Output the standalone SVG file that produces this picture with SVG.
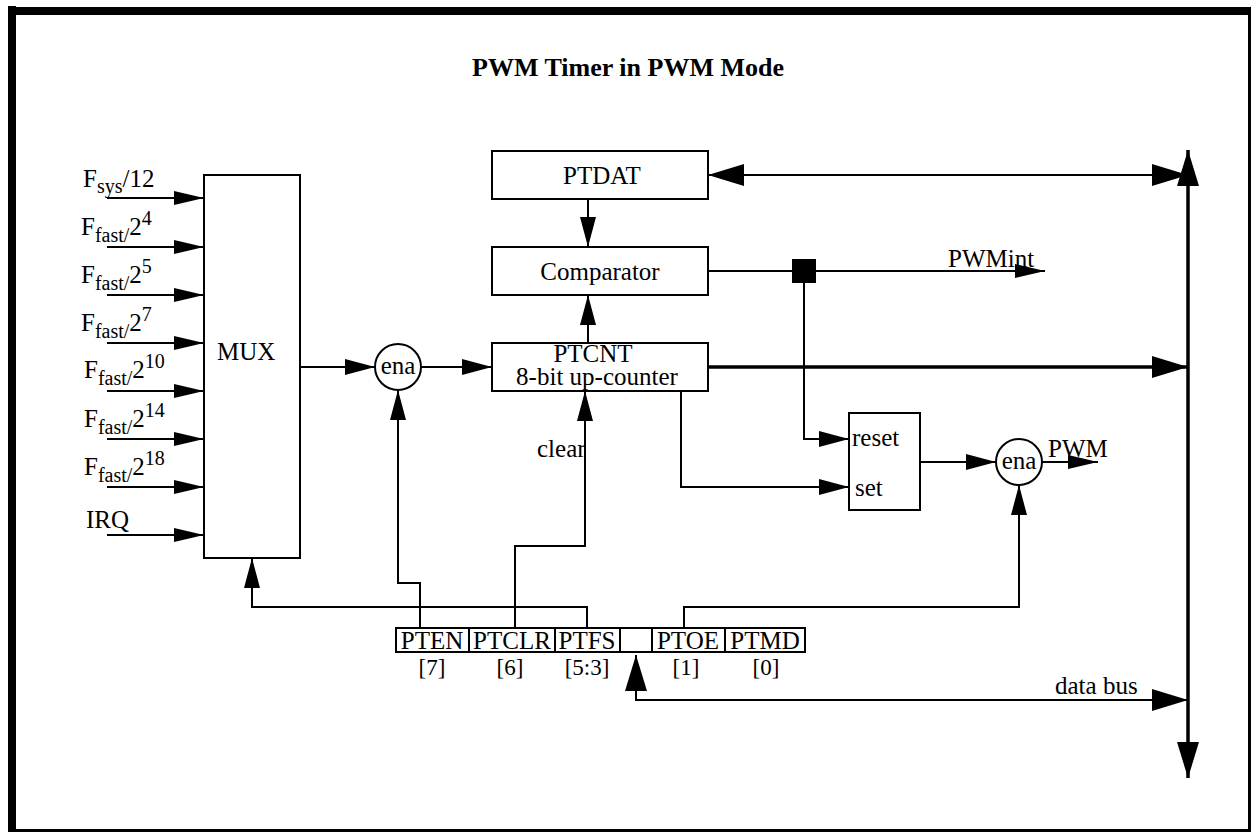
<svg xmlns="http://www.w3.org/2000/svg" width="1251" height="832" viewBox="0 0 1251 832" font-family="'Liberation Serif','Times New Roman',serif">
<style>
text{font-family:"Liberation Serif","Times New Roman",serif;font-size:25px;fill:#000}
tspan{font-family:"Liberation Serif","Times New Roman",serif}
.t{font-family:"Liberation Serif","Times New Roman",serif;font-weight:bold;font-size:26px}
.sub{font-size:20px}
.br{font-size:23px}
.box{fill:#fff;stroke:#000;stroke-width:2}
.ln{fill:none;stroke:#000;stroke-width:2}
.thk{fill:none;stroke:#000;stroke-width:3.5}
.mid{text-anchor:middle}
</style>
<defs>
<marker id="ah" markerUnits="userSpaceOnUse" markerWidth="32" markerHeight="18" refX="30" refY="8" orient="auto"><path d="M0,0 L30,8 L0,16 z" fill="#000"/></marker>
<marker id="ahs" markerUnits="userSpaceOnUse" markerWidth="32" markerHeight="18" refX="30" refY="7" orient="auto"><path d="M0,0 L30,7 L0,14 z" fill="#000"/></marker>
<marker id="ahb" markerUnits="userSpaceOnUse" markerWidth="38" markerHeight="24" refX="36" refY="11" orient="auto"><path d="M0,0 L36,11 L0,22 z" fill="#000"/></marker>
<marker id="ahbs" markerUnits="userSpaceOnUse" markerWidth="38" markerHeight="24" refX="36" refY="11" orient="auto-start-reverse"><path d="M0,0 L36,11 L0,22 z" fill="#000"/></marker>
</defs>
<rect x="0" y="0" width="1251" height="832" fill="#fff"/>
<g id="frame">
<rect x="8" y="7" width="1242" height="8" fill="#000"/>
<rect x="8" y="6" width="8" height="826" fill="#000"/>
<rect x="1248" y="7" width="3" height="825" fill="#000"/>
<rect x="8" y="829" width="1243" height="3" fill="#000"/>
</g>
<text class="t mid" x="628" y="76">PWM Timer in PWM Mode</text>

<g id="connectors">
<path class="ln" d="M107,198H204" marker-end="url(#ahs)"/>
<path class="ln" d="M107,247H204" marker-end="url(#ahs)"/>
<path class="ln" d="M107,295H204" marker-end="url(#ahs)"/>
<path class="ln" d="M107,343H204" marker-end="url(#ahs)"/>
<path class="ln" d="M107,391H204" marker-end="url(#ahs)"/>
<path class="ln" d="M107,439H204" marker-end="url(#ahs)"/>
<path class="ln" d="M107,487H204" marker-end="url(#ahs)"/>
<path class="ln" d="M107,535H204" marker-end="url(#ahs)"/>
<path class="ln" d="M300,367H375" marker-end="url(#ah)"/>
<path class="ln" d="M421,367H492" marker-end="url(#ah)"/>
<path class="ln" d="M588,199V247" marker-end="url(#ah)"/>
<path class="ln" d="M588,343V295" marker-end="url(#ah)"/>
<path class="ln" d="M708,271H1045" marker-end="url(#ahs)"/>
<path class="ln" d="M804,283V439H849" marker-end="url(#ah)"/>
<path class="ln" d="M681,391V487H849" marker-end="url(#ah)"/>
<path class="ln" d="M920,462H996" marker-end="url(#ah)"/>
<path class="ln" d="M1042,462H1098" marker-end="url(#ahs)"/>
<path class="thk" d="M708,367H1188" marker-end="url(#ahb)"/>
<path class="ln" d="M708,175H1188" marker-start="url(#ahbs)" marker-end="url(#ahbs)"/>
<path class="thk" d="M1188,150V778" marker-start="url(#ahbs)" marker-end="url(#ahbs)"/>
<path class="ln" d="M1188,700H636V655" marker-start="url(#ahbs)" marker-end="url(#ahbs)"/>
<path class="ln" d="M420,628V583H398V390" marker-end="url(#ah)"/>
<path class="ln" d="M515,628V546H585V391" marker-end="url(#ah)"/>
<path class="ln" d="M587,628V607H252V558" marker-end="url(#ah)"/>
<path class="ln" d="M684,628V607H1019V485" marker-end="url(#ah)"/>
</g>

<g id="inputs">
<text x="83" y="187">F<tspan class="sub" dy="6">sys</tspan><tspan dy="-6">/12</tspan></text>
<text x="81" y="235">F<tspan class="sub" dy="7">fast/</tspan><tspan dy="-7">2</tspan><tspan class="sub" dy="-10">4</tspan></text>
<text x="81" y="283">F<tspan class="sub" dy="7">fast/</tspan><tspan dy="-7">2</tspan><tspan class="sub" dy="-10">5</tspan></text>
<text x="81" y="331">F<tspan class="sub" dy="7">fast/</tspan><tspan dy="-7">2</tspan><tspan class="sub" dy="-10">7</tspan></text>
<text x="84" y="378">F<tspan class="sub" dy="7">fast/</tspan><tspan dy="-7">2</tspan><tspan class="sub" dy="-10">10</tspan></text>
<text x="84" y="427">F<tspan class="sub" dy="7">fast/</tspan><tspan dy="-7">2</tspan><tspan class="sub" dy="-10">14</tspan></text>
<text x="84" y="475">F<tspan class="sub" dy="7">fast/</tspan><tspan dy="-7">2</tspan><tspan class="sub" dy="-10">18</tspan></text>
<text x="86" y="528">IRQ</text>
</g>

<g id="mux">
<rect class="box" x="204" y="175" width="96" height="383"/>
<text x="217" y="360">MUX</text>
</g>
<g id="ena1">
<circle class="box" cx="398" cy="367" r="23"/>
<text class="mid" x="398" y="374">ena</text>
</g>
<g id="ptdat">
<rect class="box" x="492" y="151" width="216" height="48"/>
<text class="mid" x="602" y="184">PTDAT</text>
</g>
<g id="comparator">
<rect class="box" x="492" y="247" width="216" height="48"/>
<text class="mid" x="600" y="280">Comparator</text>
</g>
<g id="ptcnt">
<rect class="box" x="492" y="343" width="216" height="48"/>
<text class="mid" x="593" y="362">PTCNT</text>
<text class="mid" x="597" y="385">8-bit up-counter</text>
</g>
<text x="537" y="457">clear</text>
<g id="junction"><rect x="792" y="259" width="24" height="24" fill="#000"/></g>
<text x="948" y="267">PWMint</text>
<g id="srlatch">
<rect class="box" x="849" y="413" width="71" height="97"/>
<text x="852" y="446">reset</text>
<text x="855" y="496">set</text>
</g>
<g id="ena2">
<circle class="box" cx="1019" cy="462" r="23"/>
<text class="mid" x="1019" y="469">ena</text>
</g>
<text x="1048" y="457">PWM</text>
<text x="1055" y="694">data bus</text>

<g id="register">
<rect class="box" x="396" y="628" width="73" height="24"/>
<rect class="box" x="469" y="628" width="86" height="24"/>
<rect class="box" x="555" y="628" width="65" height="24"/>
<rect class="box" x="620" y="628" width="32" height="24"/>
<rect class="box" x="652" y="628" width="73" height="24"/>
<rect class="box" x="725" y="628" width="80" height="24"/>
<text class="mid" x="432" y="649">PTEN</text>
<text class="mid" x="512" y="649">PTCLR</text>
<text class="mid" x="587" y="649">PTFS</text>
<text class="mid" x="688" y="649">PTOE</text>
<text class="mid" x="765" y="649">PTMD</text>
<text class="mid br" x="432" y="675">[7]</text>
<text class="mid br" x="510" y="675">[6]</text>
<text class="mid br" x="587" y="675">[5:3]</text>
<text class="mid br" x="686" y="675">[1]</text>
<text class="mid br" x="766" y="675">[0]</text>
</g>
</svg>
